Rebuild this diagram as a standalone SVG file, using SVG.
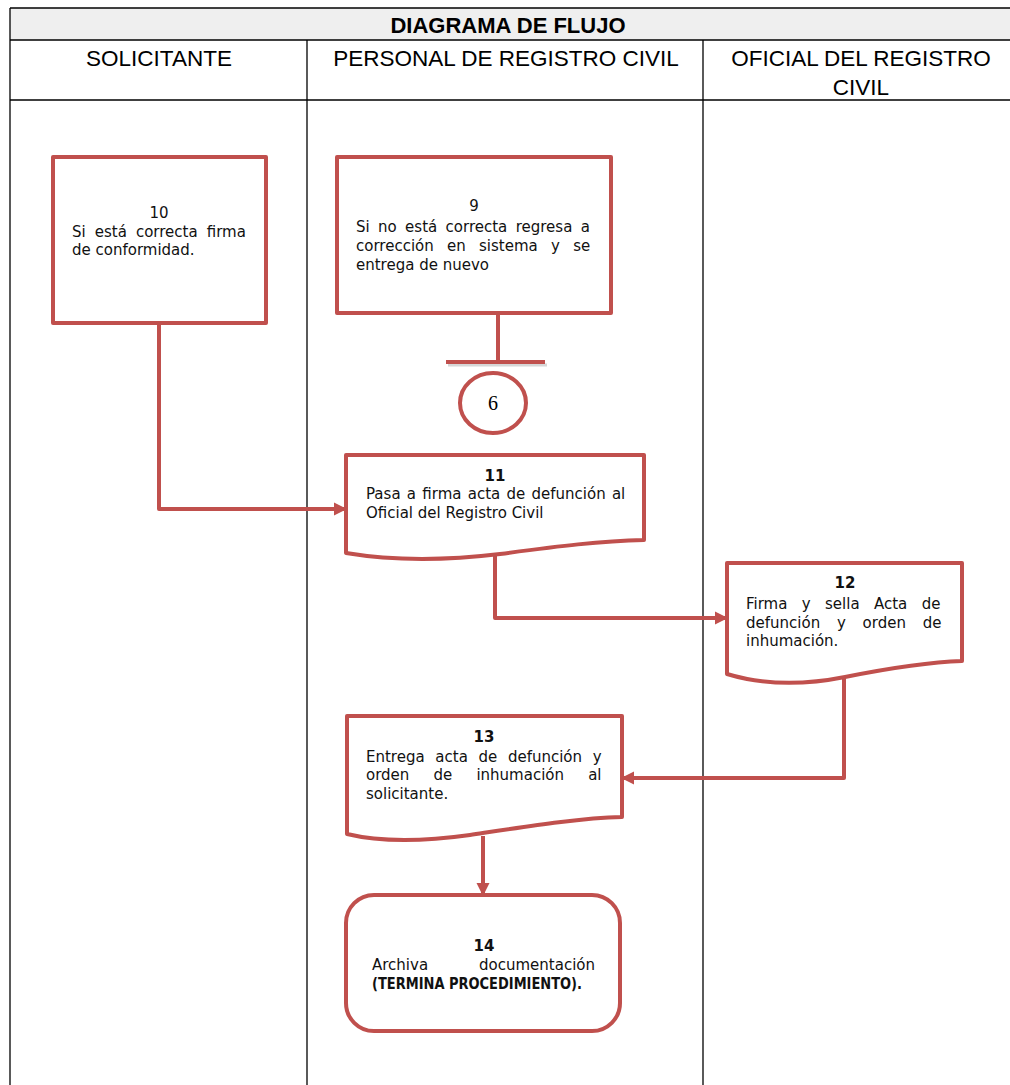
<svg xmlns="http://www.w3.org/2000/svg" width="1010" height="1085" viewBox="0 0 1010 1085">
<defs>
<style>
.grid{stroke:#000;stroke-width:1.3;fill:none}
.hdr{font-family:"Liberation Sans",Arial,sans-serif;font-size:22.5px;fill:#000;text-anchor:middle}
.ttl{font-family:"Liberation Sans",Arial,sans-serif;font-size:22px;font-weight:bold;fill:#000;text-anchor:middle}
.shape{fill:#fff;stroke:#c0504d;stroke-width:4;stroke-linejoin:round}
.conn{fill:none;stroke:#c0504d;stroke-width:4;stroke-linejoin:round}
.t{font-family:"DejaVu Sans","Liberation Sans",sans-serif;font-size:15px;fill:#111}
.c{text-anchor:middle}
.b{font-weight:bold}
</style>
<marker id="arr" markerUnits="userSpaceOnUse" markerWidth="14" markerHeight="14" refX="12" refY="7" orient="auto">
<path d="M0,0.5 L13,7 L0,13.5 Z" fill="#c0504d"/>
</marker>
</defs>

<g id="table">
<rect x="10" y="8" width="1010" height="32" fill="#efefef"/>
<line class="grid" x1="10" y1="8" x2="1010" y2="8"/>
<line class="grid" x1="10" y1="40" x2="1010" y2="40"/>
<line class="grid" x1="10" y1="100" x2="1010" y2="100"/>
<line class="grid" x1="10" y1="8" x2="10" y2="1085"/>
<line class="grid" x1="307" y1="40" x2="307" y2="1085"/>
<line class="grid" x1="703" y1="40" x2="703" y2="1085"/>
<text class="ttl" x="508" y="33">DIAGRAMA DE FLUJO</text>
<text class="hdr" x="159" y="66">SOLICITANTE</text>
<text class="hdr" x="506" y="66">PERSONAL DE REGISTRO CIVIL</text>
<text class="hdr" x="861" y="66">OFICIAL DEL REGISTRO</text>
<text class="hdr" x="861" y="95">CIVIL</text>
</g>

<g id="connectors">
<path class="conn" d="M159,323 L159,509 L346,509" marker-end="url(#arr)"/>
<path class="conn" d="M495,556 L495,618 L727,618" marker-end="url(#arr)"/>
<path class="conn" d="M844,678 L844,778 L622,778" marker-end="url(#arr)"/>
<path class="conn" d="M483,836 L483,895" marker-end="url(#arr)"/>
<line x1="498" y1="313" x2="498" y2="361" class="conn"/>
<line x1="448" y1="365" x2="547" y2="365" stroke="#bbb" stroke-width="3" opacity="0.6"/>
<line x1="446" y1="362" x2="545" y2="362" class="conn"/>
</g>

<g id="node10">
<rect class="shape" x="53" y="157" width="213" height="166"/>
<text class="t c" x="159" y="218">10</text>
<text class="t" x="72" y="237" word-spacing="4.3">Si está correcta firma</text>
<text class="t" x="72" y="255">de conformidad.</text>
</g>

<g id="node9">
<rect class="shape" x="337" y="157" width="274" height="156"/>
<text class="t c" x="474" y="211">9</text>
<text class="t" x="356" y="232" word-spacing="3.6">Si no está correcta regresa a</text>
<text class="t" x="356" y="251" word-spacing="8.5">corrección en sistema y se</text>
<text class="t" x="356" y="270">entrega de nuevo</text>
</g>

<g id="connector6">
<ellipse class="shape" cx="493" cy="403" rx="33" ry="30"/>
<text x="493" y="410" text-anchor="middle" font-family="'Liberation Serif','Times New Roman',serif" font-size="20" fill="#000">6</text>
</g>

<g id="node11">
<path class="shape" d="M346,455 L644,455 L644,540 C600,541 560,546 500,554 C450,560 400,562 346,553 Z"/>
<text class="t c b" x="495" y="481">11</text>
<text class="t" x="366" y="499" word-spacing="1.5">Pasa a firma acta de defunción al</text>
<text class="t" x="366" y="518">Oficial del Registro Civil</text>
</g>

<g id="node12">
<path class="shape" d="M727,563 L962,563 L962,661 C930,662 890,668 845,677 C800,686 760,684 727,674 Z"/>
<text class="t c b" x="845" y="588">12</text>
<text class="t" x="746" y="609" word-spacing="9.6">Firma y sella Acta de</text>
<text class="t" x="746" y="628" word-spacing="12">defunción y orden de</text>
<text class="t" x="746" y="646">inhumación.</text>
</g>

<g id="node13">
<path class="shape" d="M347,716 L622,716 L622,817 C580,818 530,826 470,835 C420,842 380,842 347,834 Z"/>
<text class="t c b" x="484" y="742">13</text>
<text class="t" x="366" y="762" word-spacing="5.9">Entrega acta de defunción y</text>
<text class="t" x="366" y="780" word-spacing="19.4">orden de inhumación al</text>
<text class="t" x="366" y="799">solicitante.</text>
</g>

<g id="node14">
<rect class="shape" x="346" y="895" width="274" height="136" rx="28" ry="28"/>
<text class="t c b" x="484" y="951">14</text>
<text class="t" x="372" y="970">Archiva</text>
<text class="t" x="595" y="970" text-anchor="end">documentación</text>
<text class="t b" x="372" y="989" textLength="210" lengthAdjust="spacingAndGlyphs">(TERMINA PROCEDIMIENTO).</text>
</g>
</svg>
